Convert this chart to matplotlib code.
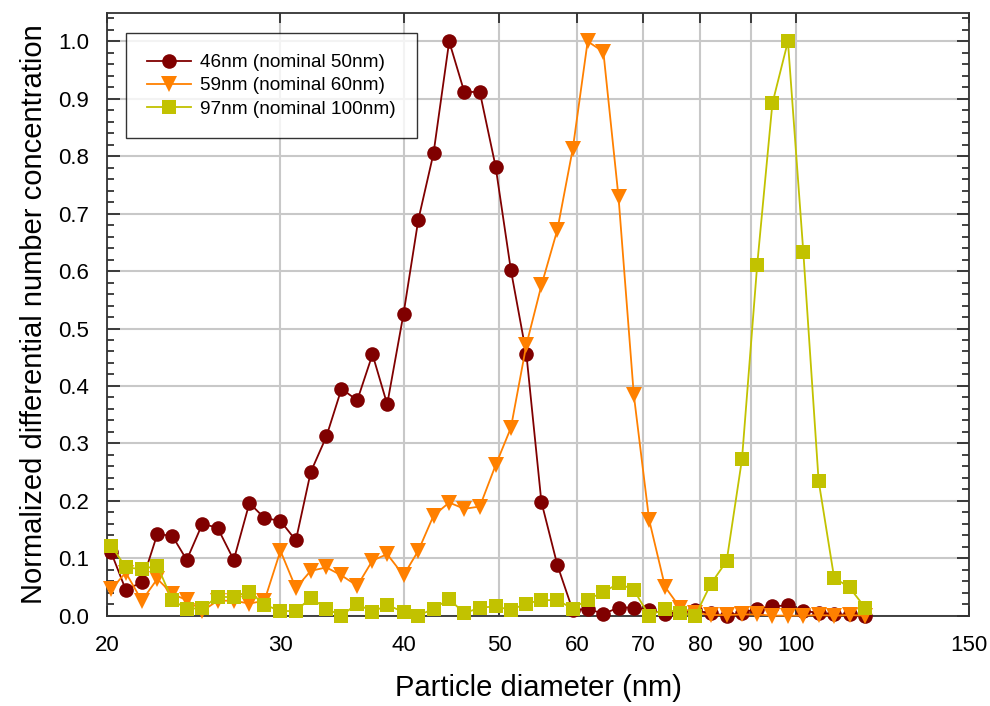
import matplotlib
matplotlib.use("Agg")
import matplotlib.pyplot as plt
from matplotlib.ticker import FixedLocator, NullLocator, MultipleLocator, FixedFormatter

plt.rcParams['font.family'] = ['Liberation Sans', 'DejaVu Sans']

# SMPS channel midpoints (nm)
diameter = [20.2, 20.9, 21.7, 22.5, 23.3, 24.1, 25.0, 25.9, 26.9, 27.9,
            28.9, 30.0, 31.1, 32.2, 33.4, 34.6, 35.9, 37.2, 38.5, 40.0,
            41.4, 42.9, 44.5, 46.1, 47.8, 49.6, 51.4, 53.3, 55.2, 57.3,
            59.4, 61.5, 63.8, 66.1, 68.5, 71.0, 73.7, 76.4, 79.1, 82.0,
            85.1, 88.2, 91.4, 94.7, 98.2, 101.8, 105.5, 109.4, 113.4, 117.6]

conc_46 = [0.110, 0.045, 0.058, 0.142, 0.139, 0.097, 0.160, 0.153, 0.097, 0.196,
           0.170, 0.165, 0.131, 0.250, 0.312, 0.395, 0.375, 0.455, 0.368, 0.526,
           0.689, 0.805, 1.000, 0.912, 0.912, 0.782, 0.602, 0.455, 0.198, 0.088,
           0.009, 0.012, 0.003, 0.014, 0.014, 0.010, 0.003, 0.007, 0.009, 0.004,
           0.000, 0.005, 0.012, 0.016, 0.018, 0.008, 0.005, 0.002, 0.002, 0.000]

conc_59 = [0.046, 0.075, 0.026, 0.064, 0.038, 0.027, 0.008, 0.026, 0.026, 0.021,
           0.026, 0.113, 0.048, 0.078, 0.084, 0.070, 0.052, 0.096, 0.107, 0.070,
           0.113, 0.174, 0.197, 0.186, 0.190, 0.262, 0.327, 0.472, 0.575, 0.672,
           0.813, 1.000, 0.982, 0.729, 0.385, 0.167, 0.050, 0.013, 0.005, 0.001,
           0.001, 0.002, 0.002, 0.000, 0.000, 0.000, 0.001, 0.000, 0.001, 0.000]

conc_97 = [0.122, 0.084, 0.081, 0.087, 0.027, 0.012, 0.013, 0.033, 0.032, 0.042,
           0.019, 0.008, 0.008, 0.031, 0.012, 0.000, 0.021, 0.006, 0.019, 0.006,
           0.000, 0.012, 0.029, 0.004, 0.014, 0.016, 0.010, 0.021, 0.027, 0.027,
           0.012, 0.028, 0.041, 0.056, 0.045, 0.000, 0.012, 0.004, 0.000, 0.055,
           0.095, 0.272, 0.611, 0.892, 1.000, 0.633, 0.235, 0.066, 0.049, 0.014]

labels = ['46nm (nominal 50nm)', '59nm (nominal 60nm)', '97nm (nominal 100nm)']
colors = ['#800000', '#ff8000', '#c2c200']
markers = ['o', 'v', 's']
msizes = [10.5, 11, 9.5]

x_ticks = [20, 30, 40, 50, 60, 70, 80, 90, 100, 150]
x_ticklabels = ['20', '30', '40', '50', '60', '70', '80', '90', '100', '150']

fig = plt.figure(figsize=(9.9, 7.06), dpi=100)
ax = fig.add_axes([0.108, 0.128, 0.871, 0.854])

for y, lab, c, m, ms in zip([conc_46, conc_59, conc_97], labels, colors, markers, msizes):
    ax.plot(diameter, y, color=c, marker=m, markersize=ms, linewidth=1.3,
            markeredgewidth=0, label=lab, zorder=3, clip_on=False)

ax.set_xscale('log')
ax.set_xlim(20, 150)
ax.set_ylim(0, 1.05)
ax.xaxis.set_major_locator(FixedLocator(x_ticks))
ax.xaxis.set_major_formatter(FixedFormatter(x_ticklabels))
ax.xaxis.set_minor_locator(NullLocator())
ax.yaxis.set_major_locator(MultipleLocator(0.1))
ax.yaxis.set_minor_locator(MultipleLocator(0.02))
ax.yaxis.set_major_formatter(matplotlib.ticker.FormatStrFormatter('%.1f'))

ax.grid(True, which='major', color='#c8c8c8', linewidth=1.5, zorder=0)
ax.set_axisbelow(True)

ax.tick_params(axis='both', which='both', direction='in', top=True, right=True,
               labelsize=16, width=1.2, color='#222222')
ax.tick_params(axis='y', which='major', length=9, pad=13)
ax.tick_params(axis='y', which='minor', length=5)
ax.tick_params(axis='x', which='major', length=7, pad=14)

for s in ax.spines.values():
    s.set_linewidth(1.3)
    s.set_color('#333333')

ax.set_xlabel('Particle diameter (nm)', fontsize=21, labelpad=13)
ax.set_ylabel('Normalized differential number concentration', fontsize=21, labelpad=7)

leg = ax.legend(loc='upper left', bbox_to_anchor=(0.022, 0.966), borderaxespad=0,
                fontsize=13.7, frameon=True, fancybox=False, edgecolor='black',
                handlelength=2.3, borderpad=1.1, labelspacing=0.3, handletextpad=0.5)
leg.get_frame().set_linewidth(1.0)

fig.savefig('out.png', dpi=100)
